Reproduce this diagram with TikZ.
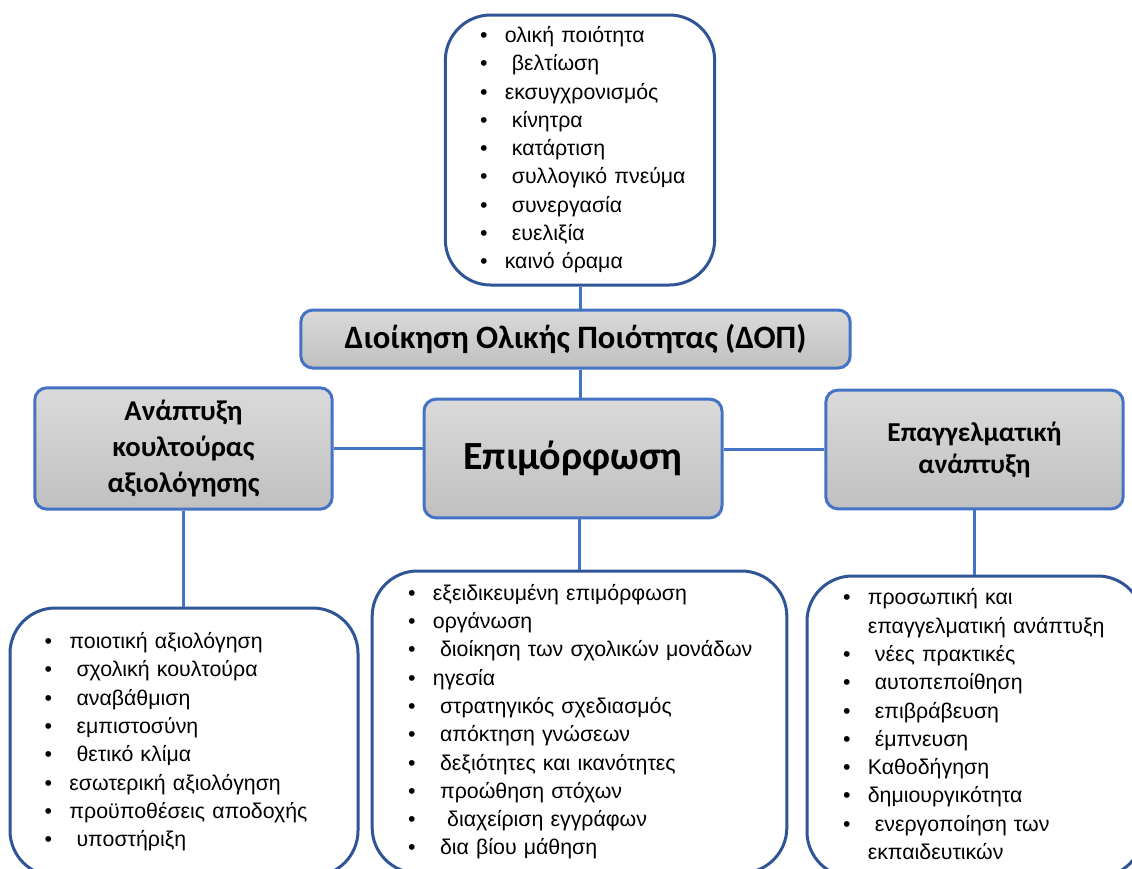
\documentclass[tikz,border=0pt]{standalone}
\usepackage{fontspec}
\setmainfont{Liberation Sans}
\newfontfamily\hdfont{Carlito}

\definecolor{lineblue}{HTML}{4472C4}
\definecolor{darkblue}{HTML}{2F5597}
\definecolor{boxtop}{HTML}{DADADA}
\definecolor{boxbottom}{HTML}{C0C0C0}

% bulleted list inside a box
\newcommand{\bulletlist}[1]{\begin{tabular}{@{}l@{\hspace{13pt}}l@{}}#1\end{tabular}}
\newcommand{\itm}{\textbullet &}

\begin{document}
\begin{tikzpicture}[
    x=0.75pt, y=-0.75pt,
    header/.style={
        rectangle,
        rounded corners=9pt,
        draw=lineblue,
        line width=2.25pt,
        top color=boxtop,
        bottom color=boxbottom,
        font=\hdfont\bfseries,
        align=center,
        inner sep=0pt
    },
    listbox/.style={
        rectangle,
        rounded corners=34pt,
        draw=darkblue,
        line width=2.25pt,
        fill=white,
        align=left,
        inner xsep=26pt,
        inner ysep=0pt,
        font=\fontsize{16}{21.2}\selectfont
    },
    link/.style={draw=lineblue, line width=2.25pt}
]
\useasboundingbox (0,0) rectangle (1132,868);

% Top list
\node[listbox, text width=150pt, minimum height=202.5pt] (top) at (580,150) {\bulletlist{
\itm ολική ποιότητα\\
\itm \ βελτίωση\\
\itm εκσυγχρονισμός\\
\itm \ κίνητρα\\
\itm \ κατάρτιση\\
\itm \ συλλογικό πνεύμα\\
\itm \ συνεργασία\\
\itm \ ευελιξία\\
\itm καινό όραμα}};

% Headers
\node[header, minimum width=412pt, minimum height=43.5pt, font=\hdfont\bfseries\fontsize{24.5}{28}\selectfont]
    (dop) at (575.5,339) {Διοίκηση Ολικής Ποιότητας (ΔΟΠ)};
\node[header, minimum width=223pt, minimum height=91pt, font=\hdfont\bfseries\fontsize{21.5}{27}\selectfont]
    (lhead) at (183.5,448.5) {Ανάπτυξη\\κουλτούρας\\αξιολόγησης};
\node[header, minimum width=223.5pt, minimum height=89pt, font=\hdfont\bfseries\fontsize{30}{34}\selectfont]
    (epi) at (573,458.5) {Επιμόρφωση};
\node[header, minimum width=223pt, minimum height=89pt, font=\hdfont\bfseries\fontsize{20.5}{24}\selectfont]
    (rhead) at (974.5,449.5) {Επαγγελματική\\ανάπτυξη};

% Bottom lists
\node[listbox, text width=209pt, minimum height=201pt] (llist) at (184,742) {\bulletlist{
\itm ποιοτική αξιολόγηση\\
\itm \ σχολική κουλτούρα\\
\itm \ αναβάθμιση\\
\itm \ εμπιστοσύνη\\
\itm \ θετικό κλίμα\\
\itm εσωτερική αξιολόγηση\\
\itm προϋποθέσεις αποδοχής\\
\itm \ υποστήριξη}};
\node[listbox, text width=257pt, minimum height=226.5pt, inner xsep=27pt] (clist) at (579.5,722) {\bulletlist{
\itm εξειδικευμένη επιμόρφωση\\
\itm οργάνωση\\
\itm \ διοίκηση των σχολικών μονάδων\\
\itm ηγεσία\\
\itm \ στρατηγικός σχεδιασμός\\
\itm \ απόκτηση γνώσεων\\
\itm \ δεξιότητες και ικανότητες\\
\itm \ προώθηση στόχων\\
\itm \ \ διαχείριση εγγράφων\\
\itm \ δια βίου μάθηση}};
\node[listbox, text width=198pt, minimum height=225.75pt, inner xsep=27pt] (rlist) at (975,726.5) {\bulletlist{
\itm προσωπική και\\
 & επαγγελματική ανάπτυξη\\
\itm \ νέες πρακτικές\\
\itm \ αυτοπεποίθηση\\
\itm \ επιβράβευση\\
\itm \ έμπνευση\\
\itm Καθοδήγηση\\
\itm δημιουργικότητα\\
\itm \ ενεργοποίηση των\\
 & εκπαιδευτικών}};

% Links
\draw[link] (top.south) -- (top.south |- dop.north);
\draw[link] (top.south |- dop.south) -- (top.south |- epi.north);
\draw[link] (lhead.east) -- (lhead.east -| epi.west);
\draw[link] (rhead.west) -- (rhead.west -| epi.east);
\draw[link] (lhead.south) -- (lhead.south |- llist.north);
\draw[link] (clist.north |- epi.south) -- (clist.north);
\draw[link] (rhead.south) -- (rhead.south |- rlist.north);

\end{tikzpicture}
\end{document}
